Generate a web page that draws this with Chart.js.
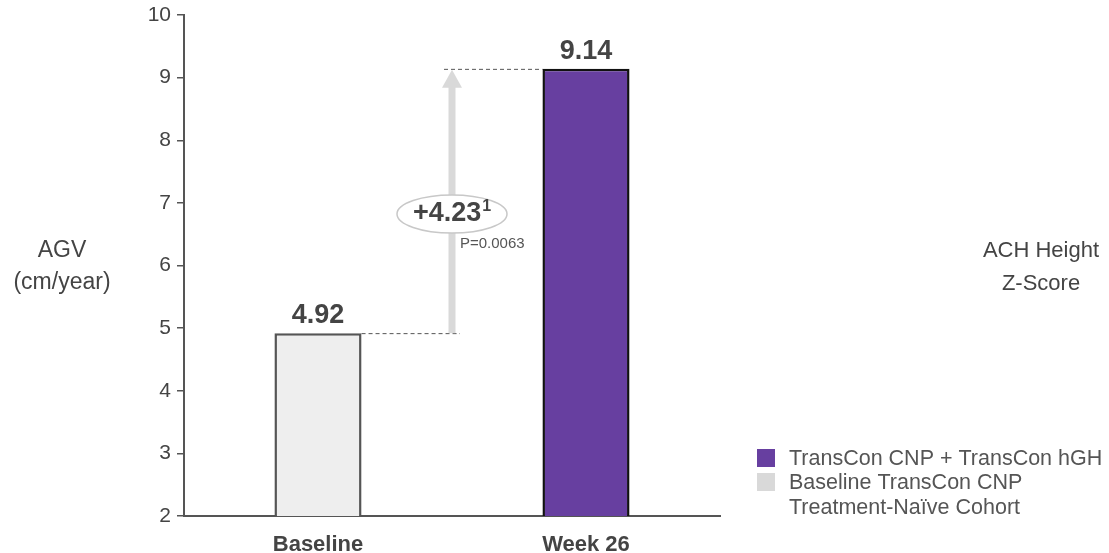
<!DOCTYPE html>
<html>
<head>
<meta charset="utf-8">
<script src="https://cdn.jsdelivr.net/npm/chart.js@4.4.1/dist/chart.umd.min.js"></script>
<style>
  html, body { margin: 0; padding: 0; background: #fff; }
  #wrap { width: 1109px; height: 553px; position: relative; }
</style>
</head>
<body>
<div id="wrap"><canvas id="agvChart"></canvas></div>
<script>
// ── Data ─────────────────────────────────────────
const categories  = ["Baseline", "Week 26"];
const agvValues   = [4.92, 9.14];
const barColors   = ["#EEEEEE", "#673FA0"];
const barBorders  = ["#555555", "#111111"];
const changeLabel = "+4.23";
const changeNote  = "1";
const pValueLabel = "P=0.0063";
const legendItems = [
    { color: "#673FA0", lines: ["TransCon CNP + TransCon hGH"] },
    { color: "#D9D9D9", lines: ["Baseline TransCon CNP", "Treatment-Naïve Cohort"] },
];

const FONT = "'Liberation Sans', Arial, Helvetica, sans-serif";
const TEXT = "#444444";

// ── Overlay: value labels, dashed guides, arrow, titles, legend ──
const overlay = {
    id: "overlay",
    afterDatasetsDraw(chart) {
        const { ctx, scales: { y } } = chart;
        const bars = chart.getDatasetMeta(0).data;
        ctx.save();

        // value labels above bars
        ctx.fillStyle = TEXT;
        ctx.font = `bold 27px ${FONT}`;
        ctx.textAlign = "center";
        ctx.textBaseline = "alphabetic";
        bars.forEach((b, i) => ctx.fillText(agvValues[i].toFixed(2), b.x, b.y - 10));

        // dashed guides
        const midX = (bars[0].x + bars[1].x) / 2;
        const yLo = y.getPixelForValue(agvValues[0]);
        const yHi = y.getPixelForValue(agvValues[1]);
        ctx.strokeStyle = "#555";
        ctx.lineWidth = 1;
        ctx.setLineDash([4, 3]);
        ctx.beginPath();
        ctx.moveTo(bars[0].x + bars[0].width / 2, yLo + 0.5);
        ctx.lineTo(midX + 8, yLo + 0.5);
        ctx.moveTo(midX - 8, yHi + 0.5);
        ctx.lineTo(bars[1].x - bars[1].width / 2, yHi + 0.5);
        ctx.stroke();
        ctx.setLineDash([]);

        // arrow
        ctx.fillStyle = "#D9D9D9";
        ctx.fillRect(midX - 3.5, yHi + 14, 7, yLo - yHi - 14);
        ctx.beginPath();
        ctx.moveTo(midX, yHi + 1);
        ctx.lineTo(midX + 10, yHi + 19);
        ctx.lineTo(midX - 10, yHi + 19);
        ctx.closePath();
        ctx.fill();

        // ellipse with change value
        const ey = 214;
        ctx.beginPath();
        ctx.ellipse(midX, ey, 55, 19, 0, 0, Math.PI * 2);
        ctx.fillStyle = "#fff";
        ctx.fill();
        ctx.strokeStyle = "#C8C8C8";
        ctx.lineWidth = 1.5;
        ctx.stroke();
        ctx.font = `bold 27px ${FONT}`;
        const w1 = ctx.measureText(changeLabel).width;
        ctx.font = `bold 16px ${FONT}`;
        const w2 = ctx.measureText(changeNote).width;
        const sx = midX - (w1 + w2 + 1) / 2;
        ctx.fillStyle = TEXT;
        ctx.textAlign = "left";
        ctx.textBaseline = "middle";
        ctx.font = `bold 27px ${FONT}`;
        ctx.fillText(changeLabel, sx, ey);
        ctx.font = `bold 16px ${FONT}`;
        ctx.fillText(changeNote, sx + w1 + 1, ey - 7);
        ctx.font = `15px ${FONT}`;
        ctx.fillStyle = "#555";
        ctx.fillText(pValueLabel, midX + 8, 244);

        // axis titles
        ctx.fillStyle = TEXT;
        ctx.textAlign = "center";
        ctx.font = `23px ${FONT}`;
        ctx.fillText("AGV", 62, 251);
        ctx.fillText("(cm/year)", 62, 283);
        ctx.font = `22px ${FONT}`;
        ctx.fillText("ACH Height", 1041, 251);
        ctx.fillText("Z-Score", 1041, 284);

        // legend
        ctx.textAlign = "left";
        ctx.font = `21.5px ${FONT}`;
        let ly = 449;
        legendItems.forEach(item => {
            ctx.fillStyle = item.color;
            ctx.fillRect(757, ly, 18, 18);
            ctx.fillStyle = "#555";
            item.lines.forEach((line, k) => ctx.fillText(line, 789, ly + 10 + k * 25));
            ly += 24 * item.lines.length;
        });

        ctx.restore();
    }
};

new Chart(document.getElementById("agvChart"), {
    type: "bar",
    data: {
        labels: categories,
        datasets: [{
            data: agvValues,
            backgroundColor: barColors,
            borderColor: barBorders,
            borderWidth: 2.5,
            categoryPercentage: 1,
            barPercentage: 0.325,
        }],
    },
    options: {
        responsive: true,
        maintainAspectRatio: false,
        animation: false,
        layout: { padding: { left: 0, right: 389, top: 15, bottom: 0 } },
        plugins: { legend: { display: false }, tooltip: { enabled: false } },
        scales: {
            x: {
                grid: { display: false },
                border: { display: true, color: "#555", width: 2 },
                ticks: { color: TEXT, font: { family: FONT, size: 22, weight: "bold" }, padding: 8 },
                afterFit: s => { s.height = 37; },
            },
            y: {
                min: 2,
                max: 10,
                ticks: { stepSize: 1, color: TEXT, font: { family: FONT, size: 21 }, padding: 6 },
                grid: { drawOnChartArea: false, drawTicks: true, tickLength: 7, color: "#555", lineWidth: 1.5 },
                border: { display: true, color: "#555", width: 2 },
                afterFit: s => { s.width = 184; s.paddingTop = 0; s.paddingBottom = 0; },
            },
        },
    },
    plugins: [overlay],
});
</script>
</body>
</html>
